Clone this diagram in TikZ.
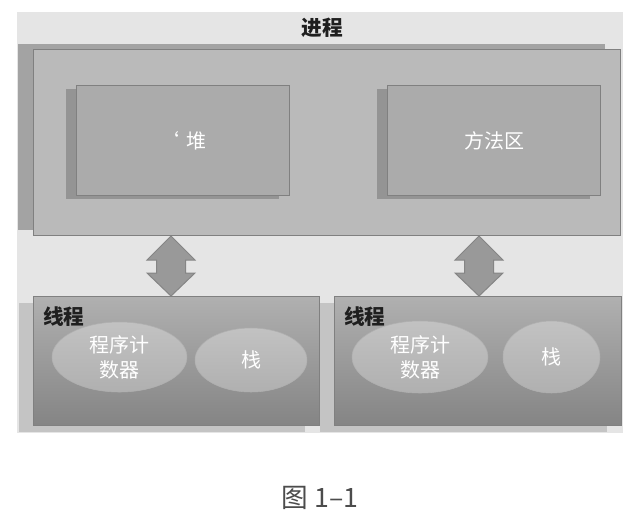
\documentclass[tikz,border=0pt]{standalone}
\usepackage{fontspec}
\setmainfont{Noto Sans CJK SC}
\usetikzlibrary{positioning,shapes.geometric,shadows}

\begin{document}
\begin{tikzpicture}[x=0.75pt,y=-0.75pt,
  box/.style={draw=kEdge,line width=0.75pt,inner sep=0pt,anchor=north west},
  procbox/.style={box,fill=kProc,
    drop shadow={shadow xshift=-12pt,shadow yshift=4.5pt,fill=kProcShadow,opacity=1}},
  areabox/.style={box,fill=kArea,text=white,font=\fontsize{15}{18}\selectfont,
    minimum width=160pt,minimum height=82.5pt,
    drop shadow={shadow xshift=-8pt,shadow yshift=-2.25pt,fill=kAreaShadow,opacity=1}},
  threadbox/.style={box,top color=kThreadTop,bottom color=kThreadBot,
    minimum width=214.5pt,minimum height=96.75pt,
    drop shadow={shadow xshift=-11pt,shadow yshift=-4.5pt,fill=kThreadShadow,opacity=1}},
  oval/.style={ellipse,inner sep=0pt,top color=kOvalTop,bottom color=kOvalBot,
    draw=kOvalBot,text=white,align=center,font=\fontsize{15}{18.75}\selectfont},
  thlabel/.style={inner sep=0pt,anchor=north west,font=\fontsize{15.5}{18}\selectfont\bfseries,text=kText},
  dblarrow/.style={fill=kArrow,draw=kArrowEdge,line width=0.75pt,line join=miter}]
  % colors
  \definecolor{kBg}{rgb}{0.90,0.90,0.90}
  \definecolor{kEdge}{rgb}{0.50,0.50,0.50}
  \definecolor{kProc}{rgb}{0.73,0.73,0.73}
  \definecolor{kProcShadow}{rgb}{0.64,0.64,0.64}
  \definecolor{kArea}{rgb}{0.67,0.67,0.67}
  \definecolor{kAreaShadow}{rgb}{0.58,0.58,0.58}
  \definecolor{kThreadTop}{rgb}{0.69,0.69,0.69}
  \definecolor{kThreadBot}{rgb}{0.52,0.52,0.52}
  \definecolor{kThreadShadow}{rgb}{0.77,0.77,0.77}
  \definecolor{kOvalTop}{rgb}{0.76,0.76,0.76}
  \definecolor{kOvalBot}{rgb}{0.69,0.69,0.69}
  \definecolor{kArrow}{rgb}{0.60,0.60,0.60}
  \definecolor{kArrowEdge}{rgb}{0.52,0.52,0.52}
  \definecolor{kText}{rgb}{0.12,0.12,0.12}
  \definecolor{kCaption}{rgb}{0.30,0.30,0.30}
  % frame
  \useasboundingbox[fill=white] (0,0) rectangle (640,522);
  \fill[kBg] (17,12) rectangle (623,433);

  % process
  \node[font=\fontsize{15.5}{18}\selectfont\bfseries,text=kText] (title) at (322,28) {进程};
  \node[procbox,minimum width=440.25pt,minimum height=139.5pt] (proc) at (33,49) {};
  \node[areabox] (heap) at (76,85) {`\,\,堆};
  \node[areabox] (method) at (387,85) {方法区};

  % threads
  \node[threadbox] (th1) at (33,296) {};
  \node[threadbox,minimum width=215.25pt] (th2) at (334,296) {};
  \node[thlabel] (lab1) at ([shift={(10,10)}]th1.north west) {线程};
  \node[thlabel] (lab2) at ([shift={(10,10)}]th2.north west) {线程};
  \node[oval,minimum width=101.25pt,minimum height=52.5pt] (pc1) at (119.5,357) {程序计\\数器};
  \node[oval,minimum width=84pt,minimum height=48pt] (stack1) at (251,360) {栈};
  \node[oval,minimum width=102pt,minimum height=54pt] (pc2) at (420,357) {程序计\\数器};
  \node[oval,minimum width=72.75pt,minimum height=54pt] (stack2) at (551.5,357) {栈};

  % double arrows
  \coordinate (c1) at (171,0);
  \coordinate (c2) at (479,0);
  \foreach \c/\t in {c1/th1,c2/th2} {
    \coordinate (top) at (proc.south -| \c);
    \coordinate (bot) at (\t.north -| \c);
    \draw[dblarrow] (top) -- ([shift={(24,24)}]top) -- ([shift={(14.5,24)}]top)
      -- ([shift={(14.5,-23)}]bot) -- ([shift={(24,-23)}]bot) -- (bot)
      -- ([shift={(-24,-23)}]bot) -- ([shift={(-14.5,-23)}]bot)
      -- ([shift={(-14.5,24)}]top) -- ([shift={(-24,24)}]top) -- cycle;
  };

  % caption
  \node[font=\fontsize{20}{24}\selectfont,text=kCaption] (cap) at (320,498) {图 1–1};
\end{tikzpicture}
\end{document}
